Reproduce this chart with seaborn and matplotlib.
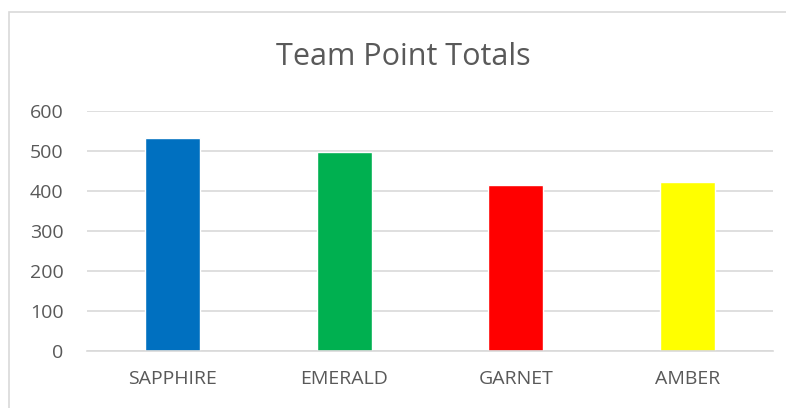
import pandas as pd
import matplotlib.pyplot as plt
import seaborn as sns
from matplotlib.patches import Rectangle

# Team totals
teams = ["SAPPHIRE", "EMERALD", "GARNET", "AMBER"]
points = [532, 497, 414, 422]
bar_colors = ["#0070C0", "#00B050", "#FF0000", "#FFFF00"]
y_ticks = [0, 100, 200, 300, 400, 500, 600]

df = pd.DataFrame({"Team": teams, "Points": points})

sns.set_style("white")
plt.rcParams["font.family"] = ["Open Sans", "DejaVu Sans"]

fig = plt.figure(figsize=(7.86, 4.08), dpi=100)
ax = fig.add_axes([0.1107, 0.1397, 0.873, 0.588])

sns.barplot(data=df, x="Team", y="Points", hue="Team", palette=bar_colors,
            width=0.32, legend=False, ax=ax, saturation=1)

ax.set_ylim(0, 600)
ax.set_yticks(y_ticks)
ax.set_xlim(-0.5, 3.5)
ax.yaxis.grid(True, color="#D9D9D9", linewidth=1.2)
ax.set_axisbelow(True)
for s in ["top", "right", "left"]:
    ax.spines[s].set_visible(False)
ax.spines["bottom"].set_color("#D9D9D9")
ax.spines["bottom"].set_linewidth(1.2)
ax.tick_params(axis="both", length=0, labelsize=14, labelcolor="#595959")
ax.tick_params(axis="x", pad=14)
ax.tick_params(axis="y", pad=17)
ax.set_xlabel("")
ax.set_ylabel("")

fig.text(0.513, 0.8407, "Team Point Totals", ha="center", va="baseline",
         fontsize=22, color="#595959")

# light chart border like the spreadsheet frame
fig.patches.append(Rectangle((0.012, -0.01), 1.0, 0.98, transform=fig.transFigure,
                             fill=False, edgecolor="#D9D9D9", linewidth=1.2))

fig.savefig("out.png", dpi=100)
